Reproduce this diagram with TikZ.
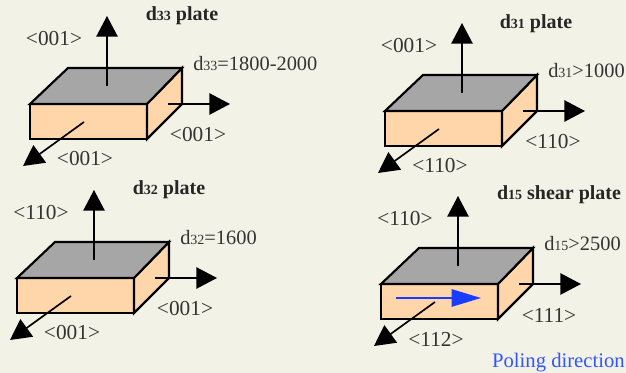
\documentclass[tikz,border=0pt]{standalone}
\usepackage{fontspec}
\setmainfont{Liberation Serif}
\usetikzlibrary{arrows.meta}
\definecolor{bgc}{HTML}{F2F2E6}
\definecolor{topc}{HTML}{A6A6A6}
\definecolor{sidec}{HTML}{FFD6AA}
\definecolor{txtc}{HTML}{333333}
\definecolor{polec}{HTML}{1A3CFF}
\definecolor{polet}{HTML}{3355FF}
\tikzset{
  face/.style={draw=black,line width=1.6pt,line join=miter},
  axis/.style={draw=black,line width=1.25pt,-{Triangle[length=15.5pt,width=16pt]}},
  lab/.style={inner sep=0pt,text=txtc,font=\fontsize{16}{16}\selectfont},
  dlab/.style={inner sep=0pt,text=txtc,font=\fontsize{15.3}{15.3}\selectfont},
  ttl/.style={inner sep=0pt,text=black!85,font=\fontsize{15}{15}\selectfont\bfseries},
}
\newcommand{\sm}[1]{{\fontsize{10.5}{10.5}\selectfont #1}}
% #1 prefix, #2 shift x, #3 shift y, #4 up label, #5 right label, #6 bottom label, #7 d label
\newcommand{\plate}[7]{%
\begin{scope}[shift={(#2,#3)}]
  \coordinate (#1fl) at (30,104); \coordinate (#1fr) at (147,104);
  \coordinate (#1bl) at (30,139); \coordinate (#1br) at (147,139);
  \coordinate (#1tl) at (68,68);  \coordinate (#1tr) at (182,68);
  \coordinate (#1rb) at (182,104);
  \fill[sidec,face] (#1fl) -- (#1fr) -- (#1br) -- (#1bl) -- cycle;
  \fill[sidec,face] (#1fr) -- (#1tr) -- (#1rb) -- (#1br) -- cycle;
  \fill[topc,face] (#1fl) -- (#1tl) -- (#1tr) -- (#1fr) -- cycle;
  \coordinate (#1us) at (107,86);  \coordinate (#1ue) at (107,16);
  \coordinate (#1rs) at (168,104); \coordinate (#1re) at (230,104);
  \coordinate (#1ds) at (84,122);  \coordinate (#1de) at (23,166);
  \draw[axis] (#1us) -- (#1ue);
  \draw[axis] (#1rs) -- (#1re);
  \draw[axis] (#1ds) -- (#1de);
  \node[lab] (#1lu) at (54,39) {#4};
  \node[lab] (#1lr) at (198,135) {#5};
  \node[lab] (#1lb) at (85,159) {#6};
  \node[dlab,anchor=west] (#1ld) at (193,64) {#7};
\end{scope}}
\begin{document}
\begin{tikzpicture}[x=0.75pt,y=-0.75pt]
\useasboundingbox (0,0) rectangle (626,373);
\fill[bgc] (0,0) rectangle (626,373);
\plate{a}{0}{0}{<001>}{<001>}{<001>}{d\sm{33}=1800-2000}
\plate{b}{355}{7}{<001>}{<110>}{<110>}{d\sm{31}>1000}
\plate{c}{-13}{174}{<110>}{<001>}{<001>}{d\sm{32}=1600}
\plate{e}{351}{180}{<110>}{<111>}{<112>}{d\sm{15}>2500}
\node[ttl] (ta) at (182,16) {d\sm{33} plate};
\node[ttl] (tb) at (536,24) {d\sm{31} plate};
\node[ttl] (tc) at (169,190) {d\sm{32} plate};
\node[ttl] (te) at (559,195) {d\sm{15} shear plate};
\coordinate (ps) at (396,298);
\coordinate (pe) at (481,298);
\draw[draw=polec,line width=1.25pt,-{Triangle[length=22pt,width=13pt]}] (ps) -- (pe);
\node[dlab,text=polet,anchor=east,font=\fontsize{15.5}{15.5}\selectfont] (pd) at (625,363) {Poling direction};
\end{tikzpicture}
\end{document}
